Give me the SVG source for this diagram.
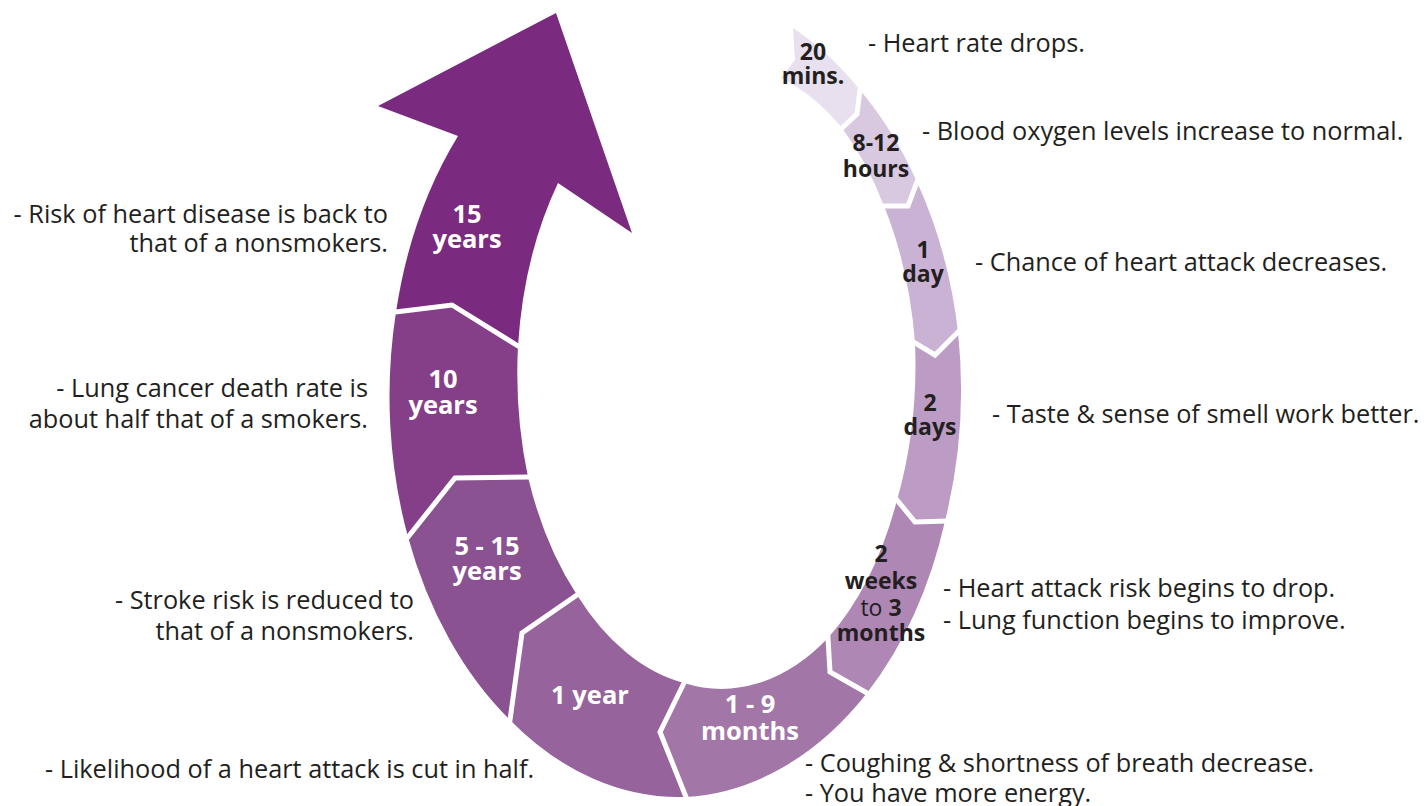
<svg xmlns="http://www.w3.org/2000/svg" width="1424" height="806" viewBox="0 0 1424 806">
<style>
.d{font-family:"Open Sans","Liberation Sans",sans-serif;font-size:25.3px;fill:#231f20}
.l{font-family:"Open Sans","Liberation Sans",sans-serif;font-weight:bold;text-anchor:middle}
.dk{fill:#231f20;font-size:23px}
.wt{fill:#ffffff;font-size:25.5px}
.sep{fill:none;stroke:#ffffff;stroke-width:5;stroke-linejoin:miter;stroke-linecap:square}
.r{text-anchor:end}
.n{font-weight:normal}
</style>
<rect width="1424" height="806" fill="#ffffff"/>
<g id="seg-20mins">
<path fill="#e8e0ee" d="M793,28 A286,398 0 0 1 860,90 L857,114 L842,128 A197,320 0 0 0 781,78 L795,60 Z"/>
<text class="l dk"><tspan x="813" y="60">20</tspan><tspan x="813" y="84">mins.</tspan></text>
</g>
<g id="seg-8-12hours">
<path fill="#d9c9e0" d="M860,90 A286,398 0 0 1 917,182 L908,206 L884,206 A197,320 0 0 0 842,128 L857,114 Z"/>
<text class="l dk"><tspan x="876" y="151">8-12</tspan><tspan x="876" y="177">hours</tspan></text>
</g>
<g id="seg-1day">
<path fill="#c9b2d3" d="M917,182 A286,398 0 0 1 958,332 L935,355 L915,343 A197,320 0 0 0 884,206 L908,206 Z"/>
<text class="l dk"><tspan x="923" y="258">1</tspan><tspan x="923" y="282">day</tspan></text>
</g>
<g id="seg-2days">
<path fill="#bc9cc4" d="M958,332 A286,398 0 0 1 945,521 L915,522 L897,500 A197,320 0 0 0 915,343 L935,355 Z"/>
<text class="l dk"><tspan x="930" y="411">2</tspan><tspan x="930" y="435">days</tspan></text>
</g>
<g id="seg-2weeks">
<path fill="#ae87b5" d="M945,521 A286,398 0 0 1 867,693 L830,672 L828,638 A197,320 0 0 0 897,500 L915,522 Z"/>
<text class="l dk"><tspan x="881" y="562">2</tspan><tspan x="881" y="589">weeks</tspan><tspan x="881" y="616"><tspan class="n">to </tspan>3</tspan><tspan x="881" y="641">months</tspan></text>
</g>
<g id="seg-1-9months">
<path fill="#a277a8" d="M867,693 A286,398 0 0 1 686,797 L660,732 L684,683 A197,320 0 0 0 828,638 L830,672 Z"/>
<text class="l wt"><tspan x="750" y="713">1 - 9</tspan><tspan x="750" y="740">months</tspan></text>
</g>
<g id="seg-1year">
<path fill="#96639c" d="M686,797 A286,398 0 0 1 510,720 L522,633 L577,595 A197,320 0 0 0 684,683 L660,732 Z"/>
<text class="l wt" x="590" y="704">1 year</text>
</g>
<g id="seg-5-15years">
<path fill="#8b5292" d="M510,720 A286,398 0 0 1 408,537 L455,478 L528,477 A197,320 0 0 0 577,595 L522,633 Z"/>
<text class="l wt"><tspan x="487" y="555">5 - 15</tspan><tspan x="487" y="580">years</tspan></text>
</g>
<g id="seg-10years">
<path fill="#853f88" d="M408,537 A286,398 0 0 1 396,312 L452,305 L518,346 A197,320 0 0 0 528,477 L455,478 Z"/>
<text class="l wt"><tspan x="443" y="388">10</tspan><tspan x="443" y="414">years</tspan></text>
</g>
<g id="seg-15years">
<path fill="#7b2b7f" d="M396,312 A286,398 0 0 1 458,136 L378,106 L556,13 L632,233 L558,183 A197,320 0 0 0 518,346 L452,305 Z"/>
<text class="l wt"><tspan x="467" y="223">15</tspan><tspan x="467" y="248">years</tspan></text>
</g>
<g id="separators">
<polyline class="sep" points="842,128 857,114 860,90"/>
<polyline class="sep" points="884,206 908,206 917,182"/>
<polyline class="sep" points="915,343 935,355 958,332"/>
<polyline class="sep" points="897,500 915,522 945,521"/>
<polyline class="sep" points="828,638 830,672 867,693"/>
<polyline class="sep" points="684,683 660,732 686,797"/>
<polyline class="sep" points="577,595 522,633 510,720"/>
<polyline class="sep" points="528,477 455,478 408,537"/>
<polyline class="sep" points="518,346 452,305 396,312"/>
</g>
<g id="descriptions">
<text class="d" x="868" y="52">- Heart rate drops.</text>
<text class="d" x="922" y="140">- Blood oxygen levels increase to normal.</text>
<text class="d" x="975" y="271">- Chance of heart attack decreases.</text>
<text class="d" x="992" y="423">- Taste &amp; sense of smell work better.</text>
<text class="d"><tspan x="943" y="597">- Heart attack risk begins to drop.</tspan><tspan x="943" y="629">- Lung function begins to improve.</tspan></text>
<text class="d"><tspan x="805" y="772">- Coughing &amp; shortness of breath decrease.</tspan><tspan x="805" y="802">- You have more energy.</tspan></text>
<text class="d r"><tspan x="388" y="223">- Risk of heart disease is back to</tspan><tspan x="388" y="252">that of a nonsmokers.</tspan></text>
<text class="d r"><tspan x="368" y="397">- Lung cancer death rate is</tspan><tspan x="368" y="428">about half that of a smokers.</tspan></text>
<text class="d r"><tspan x="414" y="609">- Stroke risk is reduced to</tspan><tspan x="414" y="640">that of a nonsmokers.</tspan></text>
<text class="d" x="45" y="778">- Likelihood of a heart attack is cut in half.</text>
</g>
</svg>
